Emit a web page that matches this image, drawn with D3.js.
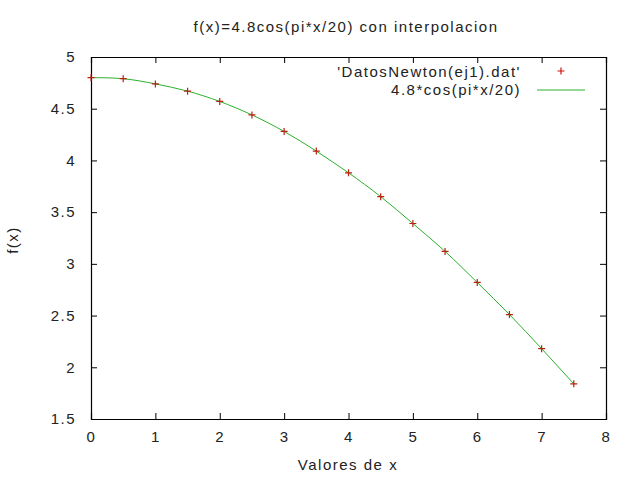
<!DOCTYPE html>
<html>
<head>
<meta charset="utf-8">
<script src="https://cdn.jsdelivr.net/npm/d3@7"></script>
<style>
  body { margin: 0; background: #fff; }
  text { font-family: "Liberation Sans", Arial, sans-serif; fill: #222; }
</style>
</head>
<body>
<svg id="chart" width="640" height="480"></svg>
<script>
// valores
const xValues = [0, 0.5, 1, 1.5, 2, 2.5, 3, 3.5, 4, 4.5, 5, 5.5, 6, 6.5, 7, 7.5]
const yValues = [4.80, 4.79, 4.74, 4.67, 4.57, 4.44, 4.28, 4.09, 3.88, 3.65, 3.39, 3.12, 2.82, 2.51, 2.18, 1.84]
const xTicks = [0, 1, 2, 3, 4, 5, 6, 7, 8]
const yTicks = [1.5, 2, 2.5, 3, 3.5, 4, 4.5, 5]
const title = 'f(x)=4.8cos(pi*x/20) con interpolacion'
const seriesNames = ["'DatosNewton(ej1).dat'", '4.8*cos(pi*x/20)']

const margin = { left: 91, right: 34, top: 57, bottom: 61 }
const W = 640, H = 480
const svg = d3.select('#chart')

const x = d3.scaleLinear().domain([0, 8]).range([margin.left, W - margin.right])
const y = d3.scaleLinear().domain([1.5, 5]).range([H - margin.bottom, margin.top])

const fmt = d => String(d)
const fs = 15
const ls = '1.5px'

// ejes (ticks hacia dentro, espejo arriba y derecha)
const gx = svg.append('g').attr('transform', `translate(0,${y(1.5)})`)
    .call(d3.axisBottom(x).tickValues(xTicks).tickFormat(fmt).tickSize(-6).tickPadding(12))
const gxTop = svg.append('g').attr('transform', `translate(0,${y(5)})`)
    .call(d3.axisTop(x).tickValues(xTicks).tickFormat('').tickSize(-6))
const gy = svg.append('g').attr('transform', `translate(${x(0)},0)`)
    .call(d3.axisLeft(y).tickValues(yTicks).tickFormat(fmt).tickSize(-6).tickPadding(15))
const gyRight = svg.append('g').attr('transform', `translate(${x(8)},0)`)
    .call(d3.axisRight(y).tickValues(yTicks).tickFormat('').tickSize(-6))

svg.selectAll('.domain').attr('stroke', '#000').attr('stroke-width', 1.2)
svg.selectAll('.tick line').attr('stroke', '#000')
svg.selectAll('.tick text').attr('font-size', fs).attr('fill', '#222')
    .style('font-family', '"Liberation Sans", Arial, sans-serif').style('letter-spacing', ls)

// titulo y etiquetas
svg.append('text').attr('x', 346).attr('y', 32).attr('text-anchor', 'middle')
    .attr('font-size', fs).style('letter-spacing', ls).text(title)
svg.append('text').attr('x', 348).attr('y', 470).attr('text-anchor', 'middle')
    .attr('font-size', fs).style('letter-spacing', ls).text('Valores de x')
svg.append('text').attr('transform', 'translate(18,240) rotate(-90)').attr('text-anchor', 'middle')
    .attr('font-size', fs).style('letter-spacing', ls).text('f(x)')

// curva
const pts = xValues.map((v, i) => [v, yValues[i]])
svg.append('path').datum(pts)
    .attr('fill', 'none').attr('stroke', '#2cb02c').attr('stroke-width', 1)
    .attr('d', d3.line().x(d => x(d[0])).y(d => y(d[1])).curve(d3.curveNatural))

// puntos '+'
const r = 3.5
const plus = svg.append('g').selectAll('path').data(pts).enter().append('path')
    .attr('d', d => `M${x(d[0]) - r},${y(d[1])}h${2 * r}M${x(d[0])},${y(d[1]) - r}v${2 * r}`)
    .attr('stroke', '#b82010').attr('stroke-width', 1.2).attr('fill', 'none')

// leyenda
svg.append('text').attr('x', 521).attr('y', 77).attr('text-anchor', 'end')
    .attr('font-size', fs).style('letter-spacing', ls).text(seriesNames[0])
svg.append('path').attr('d', `M${561 - r},71h${2 * r}M561,${71 - r}v${2 * r}`)
    .attr('stroke', '#d01010').attr('stroke-width', 1.2)
svg.append('text').attr('x', 521).attr('y', 95).attr('text-anchor', 'end')
    .attr('font-size', fs).style('letter-spacing', ls).text(seriesNames[1])
svg.append('line').attr('x1', 537).attr('x2', 585).attr('y1', 90).attr('y2', 90)
    .attr('stroke', '#2cb02c').attr('stroke-width', 1)
</script>
</body>
</html>
